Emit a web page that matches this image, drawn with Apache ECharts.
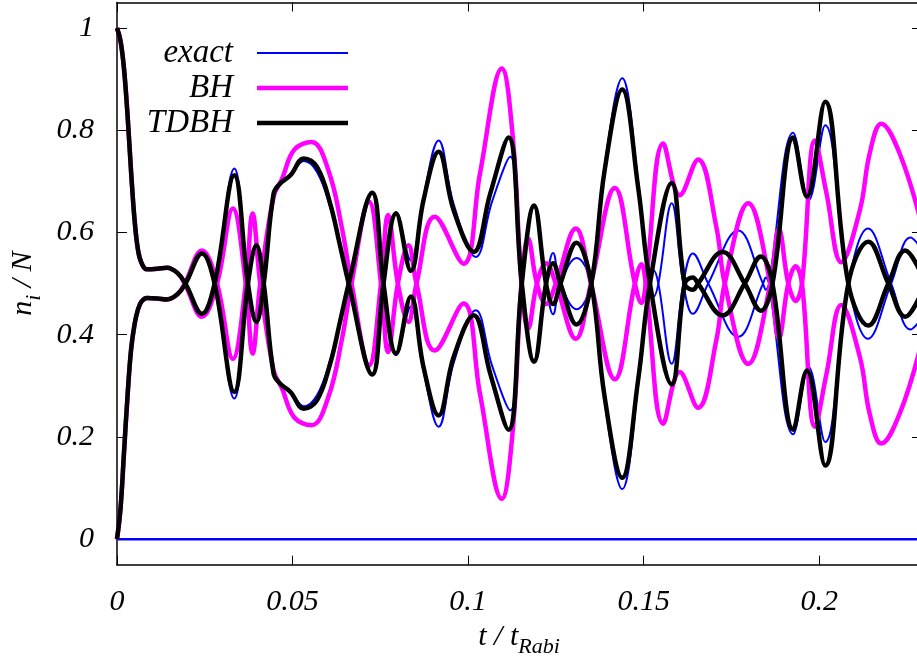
<!DOCTYPE html>
<html>
<head>
<meta charset="utf-8">
<title>n_i / N vs t / t_Rabi</title>
<script src="https://cdn.jsdelivr.net/npm/echarts@6/dist/echarts.min.js"></script>
<style>
    html, body { margin: 0; padding: 0; background: #fff; }
    #chart { width: 917px; height: 662px; }
</style>
</head>
<body>
<div id="chart"></div>
<script>
// tick labels
const xTicks = [0, 0.05, 0.1, 0.15, 0.2];
const yTicks = [0, 0.2, 0.4, 0.6, 0.8, 1];

// exact (blue): n1 and n2 of the two wells, plus the empty level at 0
const tExact = [0, 0.001, 0.002, 0.003, 0.004, 0.005, 0.006, 0.007, 0.0085, 0.0115, 0.0142, 0.0172,
    0.0195, 0.0242, 0.0278, 0.0334, 0.0373, 0.0397, 0.0418, 0.0446, 0.0465, 0.0494, 0.0532, 0.0570,
    0.0607, 0.0636, 0.0660, 0.0727, 0.0759, 0.0795, 0.0837, 0.0873, 0.0916, 0.0959, 0.1022, 0.1068,
    0.1120, 0.1153, 0.1188, 0.1222, 0.1242, 0.1263, 0.1309, 0.1351, 0.1389, 0.1439, 0.1484, 0.1515,
    0.1528, 0.1542, 0.1580, 0.1613, 0.1640, 0.1684, 0.1769, 0.1840, 0.1848, 0.1857, 0.1926, 0.1970,
    0.2017, 0.2083, 0.2139, 0.2205, 0.2260, 0.2290];
const n1Exact = [1, 0.975, 0.92, 0.83, 0.72, 0.625, 0.565, 0.54, 0.528, 0.529, 0.531, 0.521,
    0.5, 0.441, 0.5, 0.725, 0.5, 0.435, 0.5, 0.676, 0.696, 0.71, 0.74, 0.718,
    0.65, 0.57, 0.5, 0.322, 0.5, 0.64, 0.545, 0.67, 0.78, 0.655, 0.552, 0.66,
    0.748, 0.5, 0.35, 0.5, 0.56, 0.5, 0.45, 0.5, 0.73, 0.902, 0.7, 0.5,
    0.474, 0.5, 0.657, 0.5, 0.441, 0.5, 0.604, 0.5, 0.488, 0.5, 0.795, 0.663,
    0.81, 0.5, 0.392, 0.5, 0.59, 0.57];
const n2Exact = [0, 0.06, 0.17, 0.28, 0.37, 0.42, 0.45, 0.465, 0.472, 0.471, 0.469, 0.479,
    0.5, 0.559, 0.5, 0.275, 0.5, 0.565, 0.5, 0.324, 0.304, 0.29, 0.26, 0.282,
    0.35, 0.43, 0.5, 0.678, 0.5, 0.36, 0.455, 0.33, 0.22, 0.345, 0.448, 0.34,
    0.252, 0.5, 0.65, 0.5, 0.44, 0.5, 0.55, 0.5, 0.27, 0.098, 0.3, 0.5,
    0.526, 0.5, 0.343, 0.5, 0.559, 0.5, 0.396, 0.5, 0.512, 0.5, 0.205, 0.337,
    0.19, 0.5, 0.608, 0.5, 0.41, 0.43];
const tEmpty = [0, 0.2290];
const n3Exact = [0, 0];

// BH (magenta)
const tBH = [0, 0.001, 0.002, 0.003, 0.004, 0.005, 0.006, 0.007, 0.0085, 0.0115, 0.0142, 0.0172,
    0.0193, 0.0242, 0.0285, 0.0330, 0.0367, 0.0386, 0.0408, 0.0446, 0.0470, 0.0505, 0.0554, 0.0602,
    0.0640, 0.0668, 0.0718, 0.0752, 0.0772, 0.0800, 0.0830, 0.0853, 0.0905, 0.0987, 0.1034, 0.1096,
    0.1128, 0.1152, 0.1171, 0.1196, 0.1222, 0.1250, 0.1307, 0.1350, 0.1418, 0.1475, 0.1494, 0.1506,
    0.1556, 0.1603, 0.1655, 0.1707, 0.1731, 0.1798, 0.1861, 0.1885, 0.1912, 0.1933, 0.1951, 0.1988,
    0.2021, 0.2063, 0.2116, 0.2144, 0.2177, 0.2229, 0.2290];
const n1BH = [1, 0.975, 0.92, 0.83, 0.72, 0.625, 0.565, 0.54, 0.528, 0.529, 0.531, 0.521,
    0.5, 0.435, 0.5, 0.647, 0.5, 0.363, 0.5, 0.67, 0.705, 0.762, 0.777, 0.722,
    0.611, 0.5, 0.34, 0.5, 0.634, 0.5, 0.425, 0.5, 0.631, 0.539, 0.716, 0.921,
    0.781, 0.5, 0.412, 0.5, 0.54, 0.5, 0.392, 0.5, 0.687, 0.5, 0.462, 0.5,
    0.774, 0.673, 0.743, 0.611, 0.5, 0.343, 0.5, 0.607, 0.5, 0.466, 0.5, 0.78,
    0.676, 0.542, 0.644, 0.755, 0.813, 0.755, 0.62];
const n2BH = [0, 0.06, 0.17, 0.28, 0.37, 0.42, 0.45, 0.465, 0.472, 0.471, 0.469, 0.479,
    0.5, 0.565, 0.5, 0.353, 0.5, 0.637, 0.5, 0.33, 0.295, 0.238, 0.223, 0.278,
    0.389, 0.5, 0.66, 0.5, 0.366, 0.5, 0.575, 0.5, 0.369, 0.461, 0.284, 0.079,
    0.219, 0.5, 0.588, 0.5, 0.46, 0.5, 0.608, 0.5, 0.313, 0.5, 0.538, 0.5,
    0.226, 0.327, 0.257, 0.389, 0.5, 0.657, 0.5, 0.393, 0.5, 0.534, 0.5, 0.22,
    0.324, 0.458, 0.356, 0.245, 0.187, 0.245, 0.38];

// TDBH (black)
const tTDBH = [0, 0.001, 0.002, 0.003, 0.004, 0.005, 0.006, 0.007, 0.0085, 0.0115, 0.0142, 0.0172,
    0.0195, 0.0242, 0.0278, 0.0334, 0.0373, 0.0397, 0.0418, 0.0446, 0.0465, 0.0494, 0.0532, 0.0570,
    0.0607, 0.0636, 0.0660, 0.0727, 0.0759, 0.0795, 0.0837, 0.0873, 0.0916, 0.0959, 0.1016, 0.1063,
    0.1115, 0.1153, 0.1188, 0.1222, 0.1242, 0.1263, 0.1309, 0.1351, 0.1389, 0.1439, 0.1484, 0.1518,
    0.1580, 0.1617, 0.1640, 0.1655, 0.1725, 0.1788, 0.1834, 0.1867, 0.1926, 0.1965, 0.2017, 0.2083,
    0.2140, 0.2197, 0.2245, 0.2290];
const n1TDBH = [1, 0.975, 0.92, 0.83, 0.72, 0.625, 0.565, 0.54, 0.528, 0.529, 0.531, 0.521,
    0.5, 0.441, 0.5, 0.712, 0.5, 0.425, 0.5, 0.676, 0.696, 0.712, 0.745, 0.728,
    0.657, 0.572, 0.5, 0.322, 0.5, 0.637, 0.525, 0.663, 0.758, 0.643, 0.562, 0.676,
    0.786, 0.5, 0.347, 0.5, 0.54, 0.5, 0.42, 0.5, 0.722, 0.88, 0.69, 0.5,
    0.303, 0.5, 0.512, 0.5, 0.438, 0.5, 0.553, 0.5, 0.214, 0.33, 0.144, 0.5,
    0.582, 0.5, 0.435, 0.48];
const n2TDBH = [0, 0.06, 0.17, 0.28, 0.37, 0.42, 0.45, 0.465, 0.472, 0.471, 0.469, 0.479,
    0.5, 0.559, 0.5, 0.288, 0.5, 0.575, 0.5, 0.324, 0.304, 0.288, 0.255, 0.272,
    0.343, 0.428, 0.5, 0.678, 0.5, 0.363, 0.475, 0.337, 0.242, 0.357, 0.438, 0.324,
    0.214, 0.5, 0.653, 0.5, 0.46, 0.5, 0.58, 0.5, 0.278, 0.12, 0.31, 0.5,
    0.697, 0.5, 0.488, 0.5, 0.562, 0.5, 0.447, 0.5, 0.786, 0.67, 0.856, 0.5,
    0.418, 0.5, 0.565, 0.52];

const FONT = 'Liberation Serif';
const BLUE = '#0000ff';
const MAGENTA = '#ff00ff';

function pairs(t, v) {
    return t.map((x, i) => [x, v[i]]);
}

function curve(name, t, v, color, width) {
    return {
        name: name,
        type: 'line',
        data: pairs(t, v),
        smooth: 0.4,
        symbol: 'none',
        showSymbol: false,
        silent: true,
        clip: true,
        color: color,
        lineStyle: { color: color, width: width }
    };
}

// one legend box per entry so each sample line keeps its own thickness
function legendRow(name, centerY, thickness) {
    return {
        data: [name],
        orient: 'vertical',
        align: 'right',
        right: 569,
        top: centerY - 17.5,
        padding: 0,
        icon: 'rect',
        itemWidth: 91,
        itemHeight: thickness,
        selectedMode: false,
        textStyle: {
            fontFamily: FONT,
            fontStyle: 'italic',
            fontSize: 33,
            color: '#000',
            width: 100,
            align: 'right',
            lineHeight: 35,
            padding: [0, 19, 0, 0]
        }
    };
}

const labelStyle = {
    fontFamily: FONT,
    fontStyle: 'italic',
    fontSize: 30,
    color: '#000'
};

// main text + lowered subscript
const nameRich = {
    a: Object.assign({}, labelStyle, { lineHeight: 30, verticalAlign: 'top' }),
    b: Object.assign({}, labelStyle, { fontSize: 22, lineHeight: 37, verticalAlign: 'bottom' })
};

const frame = { show: true, onZero: false, lineStyle: { color: '#000', width: 1.5 } };

const chart = echarts.init(document.getElementById('chart'), null, { renderer: 'canvas' });

chart.setOption({
    animation: false,
    backgroundColor: '#fff',
    grid: {
        left: 117,
        right: -4,
        top: 2.5,
        bottom: 97.3,
        containLabel: false,
        outerBoundsMode: 'none'
    },
    legend: [
        legendRow('exact', 53, 2),
        legendRow('BH', 88, 4.5),
        legendRow('TDBH', 123, 4.5)
    ],
    xAxis: [{
        type: 'value',
        min: 0,
        max: 0.229,
        position: 'bottom',
        name: '{a|t / t}{b|Rabi}',
        nameLocation: 'middle',
        nameGap: 57,
        nameTextStyle: { rich: nameRich },
        axisLine: frame,
        axisTick: { inside: true, length: 9, customValues: xTicks, lineStyle: { color: '#000' } },
        axisLabel: Object.assign({ customValues: xTicks, margin: 22 }, labelStyle),
        splitLine: { show: false }
    }, {
        type: 'value',
        min: 0,
        max: 0.229,
        position: 'top',
        axisLine: frame,
        axisTick: { inside: true, length: 9, customValues: xTicks, lineStyle: { color: '#000' } },
        axisLabel: { show: false },
        splitLine: { show: false }
    }],
    yAxis: [{
        type: 'value',
        min: -0.05,
        max: 1.05,
        position: 'left',
        name: '{a|n}{b|i}{a| / N}',
        nameLocation: 'middle',
        nameGap: 64,
        nameTextStyle: { rich: nameRich },
        axisLine: frame,
        axisTick: { inside: true, length: 10, customValues: yTicks, lineStyle: { color: '#000' } },
        axisLabel: Object.assign({ customValues: yTicks, margin: 23 }, labelStyle),
        splitLine: { show: false }
    }, {
        type: 'value',
        min: -0.05,
        max: 1.05,
        position: 'right',
        axisLine: { show: false, onZero: false },
        axisTick: { show: true, inside: true, length: 9, customValues: yTicks, lineStyle: { color: '#000' } },
        axisLabel: { show: false },
        splitLine: { show: false }
    }],
    series: [
        curve('exact', tEmpty, n3Exact, BLUE, 2.5),
        curve('exact', tExact, n1Exact, BLUE, 2),
        curve('exact', tExact, n2Exact, BLUE, 2),
        curve('BH', tBH, n1BH, MAGENTA, 4.5),
        curve('BH', tBH, n2BH, MAGENTA, 4.5),
        curve('TDBH', tTDBH, n1TDBH, '#000', 4.5),
        curve('TDBH', tTDBH, n2TDBH, '#000', 4.5)
    ]
});
</script>
</body>
</html>
